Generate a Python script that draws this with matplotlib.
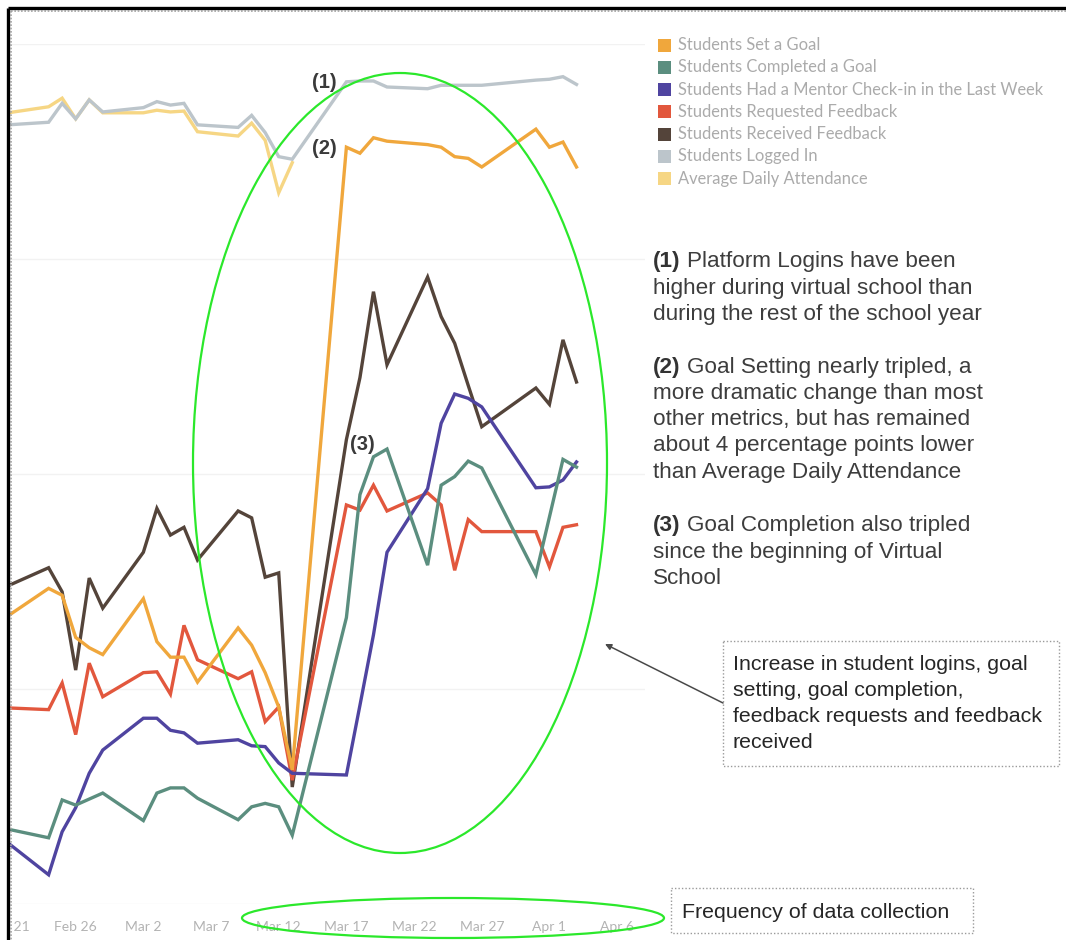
import datetime as dt

import matplotlib
matplotlib.use("Agg")
import matplotlib.pyplot as plt
from matplotlib.patches import Ellipse, Rectangle

W, H = 1066, 940

# school days with data (weekends and Mar 16 / Mar 30 have no rows)
dates = [
    "2020-02-21", "2020-02-24", "2020-02-25", "2020-02-26", "2020-02-27", "2020-02-28",
    "2020-03-02", "2020-03-03", "2020-03-04", "2020-03-05", "2020-03-06",
    "2020-03-09", "2020-03-10", "2020-03-11", "2020-03-12", "2020-03-13",
    "2020-03-17", "2020-03-18", "2020-03-19", "2020-03-20",
    "2020-03-23", "2020-03-24", "2020-03-25", "2020-03-26", "2020-03-27",
    "2020-03-31", "2020-04-01", "2020-04-02", "2020-04-03",
]

# percent of students
set_goal = [33.5, 36.7, 35.9, 31.0, 29.8, 29.0, 35.5, 30.5, 28.7, 28.7, 25.8,
            32.1, 30.1, 26.9, 22.9, 15.6,
            88.0, 87.3, 89.1, 88.7, 88.3, 88.0, 86.9, 86.7, 85.7, 90.1, 88.0, 88.6, 85.7]
completed_goal = [8.7, 7.7, 12.1, 11.5, 12.2, 12.9, 9.7, 12.9, 13.5, 13.5, 12.3,
                  9.8, 11.3, 11.7, 11.3, 8.0,
                  33.3, 47.6, 52.0, 52.9, 39.4, 48.7, 49.7, 51.5, 50.7, 38.3, 45.0, 51.7, 50.8]
mentor_checkin = [7.1, 3.4, 8.4, 11.2, 15.2, 17.9, 21.6, 21.6, 20.2, 19.9, 18.7,
                  19.1, 18.4, 18.3, 16.4, 15.2,
                  15.0, 23.1, 31.3, 40.9, 48.3, 55.9, 59.3, 58.8, 57.8, 48.4, 48.5, 49.3, 51.4]
requested_feedback = [22.8, 22.6, 25.7, 19.7, 28.0, 24.1, 26.9, 27.0, 24.4, 32.4, 28.4,
                      26.2, 27.0, 21.2, 22.9, 14.4,
                      46.4, 45.8, 48.7, 45.7, 47.8, 46.4, 38.8, 44.7, 43.3, 43.3, 39.2, 43.8, 44.1]
received_feedback = [37.0, 39.1, 36.3, 27.2, 37.9, 34.4, 40.9, 46.0, 42.9, 43.8, 40.0,
                     45.7, 44.9, 38.0, 38.5, 13.6,
                     54.0, 61.2, 71.2, 62.7, 72.9, 68.3, 65.2, 60.3, 55.5, 60.0, 58.1, 65.6, 60.7]
logged_in = [90.6, 90.9, 93.1, 91.3, 93.5, 92.1, 92.6, 93.3, 92.9, 93.1, 90.6,
             90.3, 91.7, 89.7, 86.9, 86.6,
             95.6, 95.7, 95.7, 95.0, 94.8, 95.2, 95.2, 95.2, 95.2, 95.8, 95.9, 96.2, 95.3]
# attendance is only reported through Mar 13
attendance = [92.0, 92.7, 93.7, 91.3, 93.5, 92.0, 92.0, 92.3, 92.1, 92.2, 89.8,
              89.3, 90.8, 88.8, 82.7, 86.2]

series_names = [
    "Students Set a Goal",
    "Students Completed a Goal",
    "Students Had a Mentor Check-in in the Last Week",
    "Students Requested Feedback",
    "Students Received Feedback",
    "Students Logged In",
    "Average Daily Attendance",
]
series_values = [set_goal, completed_goal, mentor_checkin, requested_feedback,
                 received_feedback, logged_in, attendance]
series_colors = ["#F0A73C", "#5B8E7F", "#4F44A0", "#E2573D", "#54443A", "#BCC5CB", "#F6D684"]

tick_labels = ["Feb 21", "Feb 26", "Mar 2", "Mar 7", "Mar 12",
               "Mar 17", "Mar 22", "Mar 27", "Apr 1", "Apr 6"]

notes = [
    ("(1)", ["Platform Logins have been",
             "higher during virtual school than",
             "during the rest of the school year"]),
    ("(2)", ["Goal Setting nearly tripled, a",
             "more dramatic change than most",
             "other metrics, but has remained",
             "about 4 percentage points lower",
             "than Average Daily Attendance"]),
    ("(3)", ["Goal Completion also tripled",
             "since the beginning of Virtual",
             "School"]),
]
callout_lines = ["Increase in student logins, goal",
                 "setting, goal completion,",
                 "feedback requests and feedback",
                 "received"]
freq_label = "Frequency of data collection"

x = [dt.datetime.strptime(d, "%Y-%m-%d") for d in dates]
start = dt.datetime(2020, 2, 21)

fig = plt.figure(figsize=(W / 100, H / 100), dpi=100)
fig.patch.set_facecolor("white")

# --- line chart ---
ax = fig.add_axes([8 / W, (H - 904) / H, 637 / W, 860 / H])
for name, vals, color in reversed(list(zip(series_names, series_values, series_colors))):
    ax.plot(x[:len(vals)], vals, color=color, lw=2.4, solid_joinstyle="miter", label=name)

ax.set_ylim(0, 100)
ax.set_xlim(start + dt.timedelta(days=0.055), start + dt.timedelta(days=47.06))
ax.set_yticks([0, 25, 50, 75, 100])
ax.yaxis.grid(True, color="#f2f2f2", lw=1.0)
ax.set_axisbelow(True)
ax.tick_params(axis="y", length=0, labelleft=False)
ax.set_xticks([start + dt.timedelta(days=5 * i) for i in range(len(tick_labels))])
ax.set_xticklabels(tick_labels, fontsize=10, color="#b3b3b3", family="Lato")
ax.tick_params(axis="x", length=0, pad=12)
for s in ax.spines.values():
    s.set_visible(False)

# --- overlay in pixel coordinates ---
ov = fig.add_axes([0, 0, 1, 1], zorder=5)
ov.set_xlim(0, W)
ov.set_ylim(H, 0)
ov.axis("off")

# legend
for i, (name, color) in enumerate(zip(series_names, series_colors)):
    yc = 45 + 22.3 * i
    ov.add_patch(Rectangle((658, yc - 6.5), 13, 13, color=color, lw=0))
    ov.text(678, yc, name, fontsize=11.9, color="#ababab", family="Lato",
            va="center", ha="left")

# numbered markers on the chart
for label, (px, py) in zip(["(1)", "(2)", "(3)"], [(324, 82), (324, 148), (362, 444)]):
    ov.text(px, py, label, fontsize=14.5, fontweight="bold", color="#3a3a3a",
            family="Liberation Sans", ha="center", va="center")

# highlight ellipses
ov.add_patch(Ellipse((400, 463), 414, 780, fill=False, ec="#2BE82B", lw=1.6))
ov.add_patch(Ellipse((453, 918), 422, 40, fill=False, ec="#2BE82B", lw=1.6))

# explanatory notes
line_gap = 26.3
for (label, lines), y0 in zip(notes, [262, 367, 526]):
    ov.text(653, y0, label, fontsize=16.2, fontweight="bold", color="#333333",
            family="Liberation Sans", ha="left", va="center")
    for j, line in enumerate(lines):
        ov.text(687 if j == 0 else 653, y0 + j * line_gap, line, fontsize=16.2,
                color="#3d3d3d", family="Liberation Sans", ha="left", va="center")

# callout box with arrow
ov.add_patch(Rectangle((723, 641), 336, 125, fill=False, ec="#9a9a9a", lw=1.0,
                       ls=(0, (1, 1.5))))
for j, line in enumerate(callout_lines):
    ov.text(733, 665 + j * 25.8, line, fontsize=15.4, color="#262626",
            family="Liberation Sans", ha="left", va="center")
ov.annotate("", xy=(605, 644), xytext=(723, 703),
            arrowprops=dict(arrowstyle="-|>", color="#4a4a4a", lw=1.1,
                            mutation_scale=9, shrinkA=0, shrinkB=0))

# frequency box
ov.add_patch(Rectangle((671, 888), 302, 45, fill=False, ec="#9a9a9a", lw=1.0,
                       ls=(0, (1, 1.5))))
ov.text(682, 912, freq_label, fontsize=15.4, color="#262626",
        family="Liberation Sans", ha="left", va="center")

# screenshot frame: white margin, black edge and dotted inner line
ov.add_patch(Rectangle((0, 0), 7, H, color="white", lw=0))
ov.add_patch(Rectangle((0, 0), W, 7, color="white", lw=0))
ov.plot([7.5, W], [8, 8], color="black", lw=2.4, solid_capstyle="butt")
ov.plot([7.5, 7.5], [8, H], color="black", lw=2.4, solid_capstyle="butt")
ov.plot([10.5, W], [11, 11], color="#a0a0a0", lw=1.2, ls=(0, (1, 1)))
ov.plot([10.5, 10.5], [11, H], color="#a0a0a0", lw=1.2, ls=(0, (1, 1)))

fig.savefig("out.png", dpi=100, facecolor="white")
